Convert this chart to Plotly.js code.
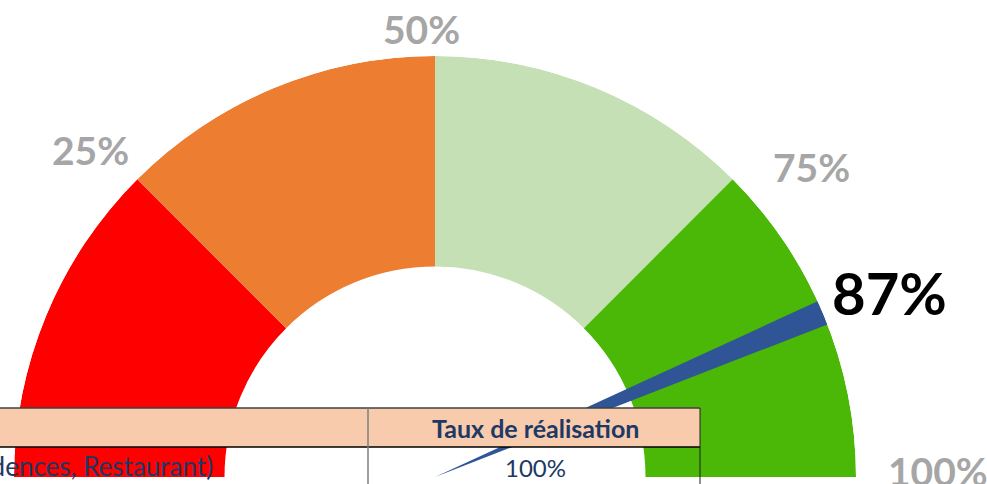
<!DOCTYPE html>
<html>
<head>
<meta charset="utf-8">
<script src="https://cdn.plot.ly/plotly-3.0.1.min.js"></script>
<style>
  html, body { margin: 0; padding: 0; background: #ffffff; overflow: hidden; }
  #chart { width: 987px; height: 484px; }
</style>
</head>
<body>
<div id="chart"></div>
<script>
// ---------- data ----------
const bandNames  = ['0 – 25%', '25 – 50%', '50 – 75%', '75 – 100%'];
const bandStart  = [0, 25, 50, 75];
const bandEnd    = [25, 50, 75, 100];
const tickValues = [25, 50, 75, 100];
const tickLabels = ['25%', '50%', '75%', '100%'];
const needleValue = 87.25;      // percent read from the needle position
const needleWidth = 1.9;        // needle thickness, in percent units
const valueLabel  = '87%';
const tableHeader = ['', 'Taux de réalisation'];
const tableRow    = ['(Résidences, Restaurant)', '100%'];

// ---------- styles ----------
const bandColors  = ['#ff0000', '#ed7d31', '#c5e0b4', '#4bb706'];
const needleColor = '#2f5597';
const labelGray   = '#a6a6a6';
const navy        = '#203864';
const headerFill  = '#f8cbad';

const W = 987, H = 484;
const px = x => x / W;
const py = y => 1 - y / H;
const deg = p => p * 180 / 100;   // percent -> angular-axis degrees (half circle)

// gauge geometry (pixels)
const cx = 435, cy = 477, R = 421;
const innerFrac = 0.5;

const ring = {
  type: 'barpolar',
  theta: bandStart.map((s, i) => deg((s + bandEnd[i]) / 2)),
  width: bandStart.map((s, i) => deg(bandEnd[i] - s)),
  r: bandStart.map(() => 1 - innerFrac),
  base: bandStart.map(() => innerFrac),
  text: bandNames,
  marker: { color: bandColors, line: { width: 0 } },
  hoverinfo: 'text',
  showlegend: false
};

const needle = {
  type: 'barpolar',
  theta: [deg(needleValue)],
  width: [deg(needleWidth)],
  r: [1],
  base: [0],
  marker: { color: needleColor, line: { width: 0 } },
  hoverinfo: 'skip',
  showlegend: false
};

// tick-label positions around the arc (pixels)
const tickPos = [[90, 150], [421, 29], [811, 167], [938, 471]];

const annotations = tickLabels.map((t, i) => ({
  text: '<b>' + t + '</b>',
  x: px(tickPos[i][0]), y: py(tickPos[i][1]),
  xref: 'paper', yref: 'paper', xanchor: 'center', yanchor: 'middle',
  showarrow: false,
  font: { family: 'Lato, "Open Sans", sans-serif', size: 39, color: labelGray }
}));

annotations.push({
  text: '<b>' + valueLabel + '</b>',
  x: px(889), y: py(292), xref: 'paper', yref: 'paper',
  xanchor: 'center', yanchor: 'middle', showarrow: false,
  font: { family: 'Lato, "Open Sans", sans-serif', size: 58, color: '#000000' }
});

// table texts
const tblTop = 408, tblHead = 447, tblRight = 700, tblDiv = 368;
annotations.push({
  text: '<b>' + tableHeader[1] + '</b>',
  x: px(535), y: py(428), xref: 'paper', yref: 'paper',
  xanchor: 'center', yanchor: 'middle', showarrow: false,
  font: { family: 'Lato, sans-serif', size: 25, color: navy }
});
annotations.push({
  text: tableRow[0],
  x: px(215), y: py(466), xref: 'paper', yref: 'paper',
  xanchor: 'right', yanchor: 'middle', showarrow: false,
  font: { family: 'Lato, sans-serif', size: 26, color: navy }
});
annotations.push({
  text: tableRow[1],
  x: px(535), y: py(467), xref: 'paper', yref: 'paper',
  xanchor: 'center', yanchor: 'middle', showarrow: false,
  font: { family: 'Lato, sans-serif', size: 24, color: navy }
});

const shapes = [
  { type: 'rect', xref: 'paper', yref: 'paper', layer: 'above',
    x0: px(-5), x1: px(tblRight), y0: py(tblHead), y1: py(tblTop),
    fillcolor: headerFill, line: { width: 0 } },
  { type: 'line', xref: 'paper', yref: 'paper', layer: 'above',
    x0: px(-5), x1: px(tblRight), y0: py(tblTop), y1: py(tblTop),
    line: { color: '#404040', width: 1.5 } },
  { type: 'line', xref: 'paper', yref: 'paper', layer: 'above',
    x0: px(-5), x1: px(tblRight), y0: py(tblHead), y1: py(tblHead),
    line: { color: '#000000', width: 1.5 } },
  { type: 'line', xref: 'paper', yref: 'paper', layer: 'above',
    x0: px(tblDiv), x1: px(tblDiv), y0: py(tblTop), y1: py(H + 5),
    line: { color: '#7f7f7f', width: 1.5 } },
  { type: 'line', xref: 'paper', yref: 'paper', layer: 'above',
    x0: px(tblRight), x1: px(tblRight), y0: py(tblTop), y1: py(H + 5),
    line: { color: '#202020', width: 1 } }
];

const layout = {
  width: W, height: H,
  margin: { l: 0, r: 0, t: 0, b: 0, pad: 0 },
  paper_bgcolor: '#ffffff',
  showlegend: false,
  polar: {
    domain: { x: [px(cx - R), px(cx + R)], y: [py(cy), py(cy - R)] },
    sector: [0, 180],
    hole: 0,
    bargap: 0,
    bgcolor: 'rgba(0,0,0,0)',
    radialaxis: { visible: false, range: [0, 1], showgrid: false, showline: false, ticks: '' },
    angularaxis: { visible: false, direction: 'clockwise', rotation: 180,
                   showgrid: false, showline: false, ticks: '' }
  },
  shapes: shapes,
  annotations: annotations
};

Plotly.newPlot('chart', [ring, needle], layout, { displayModeBar: false, staticPlot: true });
</script>
</body>
</html>
